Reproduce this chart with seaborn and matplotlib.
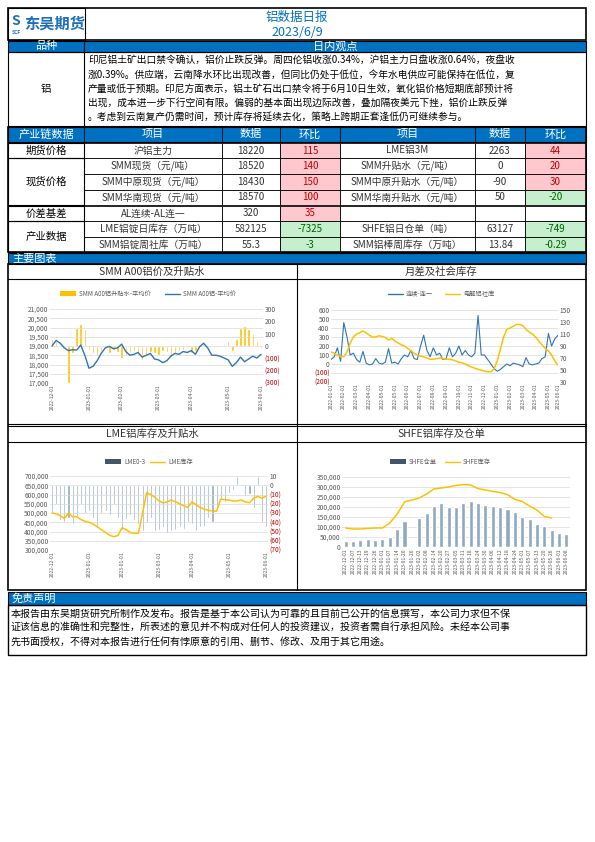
import matplotlib
matplotlib.use("Agg")
import matplotlib.pyplot as plt
import matplotlib.patches as mp
import matplotlib.ticker as mt
import numpy as np
import pandas as pd
import seaborn as sns

sns.set_theme(style="white")
plt.rcParams['font.family'] = ['Noto Sans CJK SC', 'DejaVu Sans']
plt.rcParams['axes.unicode_minus'] = False

# ---------------- data ----------------
title = "铝数据日报"
date_str = "2023/6/9"
view_lines = [
    "印尼铝土矿出口禁令确认，铝价止跌反弹。周四伦铝收涨0.34%，沪铝主力日盘收涨0.64%，夜盘收",
    "涨0.39%。供应端，云南降水环比出现改善，但同比仍处于低位，今年水电供应可能保持在低位，复",
    "产量或低于预期。印尼方面表示，铝土矿石出口禁令将于6月10日生效，氧化铝价格短期底部预计将",
    "出现，成本进一步下行空间有限。偏弱的基本面出现边际改善，叠加隔夜美元下挫，铝价止跌反弹",
    "。考虑到云南复产仍需时间，预计库存将延续去化，策略上跨期正套逢低仍可继续参与。",
]
left_items = ["沪铝主力", "SMM现货（元/吨）", "SMM中原现货（元/吨）", "SMM华南现货（元/吨）",
              "AL连续-AL连一", "LME铝锭日库存（万吨）", "SMM铝锭周社库（万吨）"]
left_vals = ["18220", "18520", "18430", "18570", "320", "582125", "55.3"]
left_chg = [115, 140, 150, 100, 35, -7325, -3]
right_items = ["LME铝3M", "SMM升贴水（元/吨）", "SMM中原升贴水（元/吨）", "SMM华南升贴水（元/吨）",
               "", "SHFE铝日仓单（吨）", "SMM铝棒周库存（万吨）"]
right_vals = ["2263", "0", "-90", "50", "", "63127", "13.84"]
right_chg = ["44", "20", "30", "-20", "", "-749", "-0.29"]
disclaimer = [
    "本报告由东吴期货研究所制作及发布。报告是基于本公司认为可靠的且目前已公开的信息撰写，本公司力求但不保",
    "证该信息的准确性和完整性，所表述的意见并不构成对任何人的投资建议，投资者需自行承担风险。未经本公司事",
    "先书面授权，不得对本报告进行任何有悖原意的引用、删节、修改、及用于其它用途。",
]

# chart 1: SMM A00 price and premium (weekly-ish, 2022-12-01 .. 2023-06-08)
c1_price = [19000, 19300, 19150, 18900, 18750, 18800, 18780, 19050, 18500, 17800, 17900, 18200,
            18600, 18900, 18980, 18850, 18900, 19100, 18700, 18500, 18550, 18650, 18400, 18500,
            18600, 18300, 18250, 18100, 18200, 18450, 18600, 18550, 18700, 18650, 18750, 18550,
            18950, 19150, 18900, 18500, 18500, 18450, 18350, 18250, 17900, 18100, 18400, 18150,
            18300, 18450, 18350, 18550]
c1_prem = [60, 40, 20, -10, -300, -60, 150, 180, 140, -30, -60, -80,
           -40, -20, -60, -30, -50, -100, -80, -60, -40, -70, -110, -80,
           -50, -60, -70, -40, -50, -90, -60, -40, -30, -20, -60, -40,
           -10, 20, 10, -10, 0, -10, 20, 40, -40, 60, 150, 160,
           140, 100, 40, -20]
# chart 2: month spread and social inventory (semi-monthly, 2022-01 .. 2023-06)
c2_spread = [50, 80, 180, 30, 460, 300, 100, 120, 50, 20, 140, 10, -10, 0, 60, 10,
             0, 20, 170, 10, 20, 0, 60, 100, 80, 150, 60, 50, 200, 320, 150, 80,
             180, 100, 120, 50, 60, 180, 80, 120, 200, 100, 150, 100, 80, 120, 540, 100,
             100, 50, 0, -50, -80, -60, -30, 0, -20, 10, 0, -10, -30, 70, 0, -10,
             0, 10, 60, 80, 340, 200, 280, 320]
c2_stock = [80, 78, 75, 72, 72, 80, 95, 105, 110, 112, 115, 112, 108, 105, 105, 107,
            106, 104, 100, 103, 98, 95, 92, 90, 86, 82, 78, 75, 73, 72, 70, 68,
            68, 69, 70, 69, 68, 68, 67, 65, 63, 62, 60, 57, 55, 53, 51, 50,
            48, 47, 47, 52, 65, 85, 105, 118, 120, 123, 126, 126, 124, 118, 113, 110,
            105, 98, 92, 86, 82, 75, 65, 58]
# chart 3: LME stock and 0-3 spread (2022-12 .. 2023-06)
c3_stock = [500000, 495000, 485000, 470000, 500000, 480000, 480000, 465000, 455000, 450000,
            440000, 425000, 410000, 395000, 380000, 372000, 378000, 420000, 410000, 395000,
            390000, 390000, 500000, 610000, 600000, 585000, 565000, 555000, 560000, 570000,
            560000, 550000, 540000, 530000, 560000, 545000, 530000, 520000, 515000, 510000,
            510000, 575000, 572000, 570000, 565000, 565000, 570000, 560000, 555000, 580000,
            590000, 580000, 590000]
c3_spread = [-30, -20, -38, -40, -35, -42, -33, -20, -30, -28, -35, -45, -30, -28, -32, -20,
             -35, -48, -36, -32, -38, -42, -50, -40, -35, -50, -48, -45, -52, -50, -48, -45,
             -47, -40, -42, -50, -45, -44, -35, -40, -22, -15, -18, -8, -5, 10, 0, -12,
             -10, -25, 10, -40, -45]
# chart 4: SHFE warrants and inventory (weekly, 2022-12-01 .. 2023-06-08)
c4_warrant = [30000, 32000, 35000, 42000, 36000, 40000, 50000, 90000, 130000, 0,
              145000, 168000, 205000, 220000, 200000, 202000, 220000, 232000, 218000, 210000,
              205000, 200000, 188000, 175000, 150000, 138000, 115000, 105000, 85000, 72000,
              64000]
c4_stock = [95000, 90000, 90000, 93000, 95000, 95000, 120000, 165000, 225000, 235000,
            245000, 265000, 290000, 295000, 300000, 308000, 312000, 310000, 292000, 285000,
            278000, 272000, 262000, 238000, 228000, 205000, 185000, 153000, 145000, None,
            None]

# ---------------- layout ----------------
W, H = 595, 842
fig = plt.figure(figsize=(W / 100, H / 100), dpi=100)
bg = fig.add_axes([0, 0, 1, 1])
bg.set_xlim(0, W); bg.set_ylim(H, 0); bg.axis('off')
BLUE = "#0070C0"


def rect(x0, y0, x1, y1, fc="none", ec="black", lw=0.8, z=1):
    bg.add_patch(mp.Rectangle((x0, y0), x1 - x0, y1 - y0, fc=fc, ec=ec, lw=lw, zorder=z))


def txt(x, y, s, size=7, color="black", ha="center", weight="normal"):
    bg.text(x, y, s, fontsize=size, color=color, ha=ha, va="center", weight=weight, zorder=5)


L, R = 8, 586
# header
rect(L, 8, R, 40, lw=1.2)
rect(L, 8, 85, 40, lw=0.8)
txt(16, 21, "S", size=10, color="#1F6FB8", weight="bold")
txt(16, 33, "SCF", size=3.5, color="#1F6FB8", weight="bold")
txt(55, 24, "东吴期货", size=11, color="#1F6FB8", weight="bold")
txt(297, 17, title, size=9, color=BLUE)
txt(297, 32, date_str, size=9, color=BLUE)
# view section
rect(L, 41, R, 52, fc=BLUE, ec="black")
bg.plot([84, 84], [41, 126], color="black", lw=0.8)
txt(46, 46.5, "品种", size=8, color="white")
txt(335, 46.5, "日内观点", size=8, color="white")
rect(L, 52, R, 126)
txt(46, 89, "铝", size=7.5)
for i, s in enumerate(view_lines):
    txt(88, 60 + i * 14.2, s, size=7, ha="left")

# table
cols = [L, 84, 222, 280, 340, 475, 525, R]
rect(L, 127, R, 142, fc=BLUE)
heads = ["产业链数据", "项目", "数据", "环比", "项目", "数据", "环比"]
for i, h in enumerate(heads):
    bg.plot([cols[i], cols[i]], [127, 142], color="black", lw=0.6)
    txt((cols[i] + cols[i + 1]) / 2, 134.5, h, size=8, color="white")
rows = [(143, 158), (158, 174), (174, 190), (190, 205), (206, 221), (221, 237), (237, 252)]
groups = [("期货价格", 0, 0), ("现货价格", 1, 3), ("价差基差", 4, 4), ("产业数据", 5, 6)]
PINK, PTXT, GRN, GTXT = "#FFC7CE", "#C00000", "#C6EFCE", "#006100"
for r, (y0, y1) in enumerate(rows):
    ym = (y0 + y1) / 2
    vals = [left_items[r], left_vals[r], left_chg[r], right_items[r], right_vals[r], right_chg[r]]
    for c in range(6):
        x0, x1 = cols[c + 1], cols[c + 2]
        v = vals[c]
        fc, tc = "white", "#333333"
        if c in (2, 5) and v != "":
            num = float(v)
            fc, tc = (PINK, PTXT) if num > 0 else (GRN, GTXT)
        rect(x0, y0, x1, y1, fc=fc, lw=0.6)
        txt((x0 + x1) / 2, ym, str(v), size=7, color=tc)
for name, a, b in groups:
    rect(L, rows[a][0], 84, rows[b][1], lw=0.8)
    txt(46, (rows[a][0] + rows[b][1]) / 2, name, size=7.5)
rect(L, 127, R, 252, lw=1.2)

# charts section
rect(L, 253, R, 264, fc=BLUE)
txt(12, 258.5, "主要图表", size=8, color="white", ha="left")
rect(L, 264, R, 590, lw=1.2)
bg.plot([297, 297], [264, 590], color="black", lw=0.8)
for y in (279, 424, 426, 442):
    bg.plot([L, R], [y, y], color="black", lw=0.8)
txt(152, 271.5, "SMM A00铝价及升贴水", size=7.5, color="#333333")
txt(441, 271.5, "月差及社会库存", size=7.5, color="#333333")
txt(152, 434, "LME铝库存及升贴水", size=7.5, color="#333333")
txt(441, 434, "SHFE铝库存及仓单", size=7.5, color="#333333")

# disclaimer
rect(L, 592, R, 605, fc=BLUE)
txt(12, 598.5, "免责声明", size=8, color="white", ha="left")
rect(L, 605, R, 655, lw=1.0)
for i, s in enumerate(disclaimer):
    txt(11, 614 + i * 14, s, size=7.2, ha="left")

YEL, LBL = "#FFC000", "#2E75B6"
TK = dict(labelsize=4.8, colors="#595959", length=0, pad=1)


def make_ax(x0, y0, x1, y1):
    ax = fig.add_axes([x0 / W, 1 - y1 / H, (x1 - x0) / W, (y1 - y0) / H])
    ax.set_facecolor("none")
    for s in ax.spines.values():
        s.set_visible(False)
    ax.grid(axis="y", color="#D9D9D9", lw=0.5)
    return ax


def neg_fmt(v, p):
    return f"({abs(v):,.0f})" if v < 0 else f"{v:,.0f}"


def color_neg(ax2):
    for lab in ax2.get_yticklabels():
        if "(" in lab.get_text():
            lab.set_color("#C00000")


def date_ticks(ax, dates, labels_idx, fmt="%Y-%m-%d"):
    ax.set_xticks(labels_idx)
    ax.set_xticklabels([dates[i].strftime(fmt) for i in labels_idx], rotation=90, fontsize=3.6, color="#595959")


# chart 1
d1 = pd.date_range("2022-12-01", "2023-06-08", periods=len(c1_price))
df1 = pd.DataFrame({"i": np.arange(len(d1)), "price": c1_price, "prem": c1_prem})
ax = make_ax(50, 309, 263, 383)
ax2 = ax.twinx()
ax2.bar(df1["i"], df1["prem"], color=YEL, width=0.6, zorder=1)
sns.lineplot(data=df1, x="i", y="price", ax=ax, color=LBL, lw=1.0, zorder=3)
ax.set_zorder(ax2.get_zorder() + 1); ax.patch.set_visible(False)
ax.set_ylim(17000, 21000); ax.set_yticks(np.arange(17000, 21001, 500))
ax2.set_ylim(-300, 300); ax2.set_yticks(np.arange(-300, 301, 100))
ax.yaxis.set_major_formatter(mt.FuncFormatter(lambda v, p: f"{v:,.0f}"))
ax2.yaxis.set_major_formatter(mt.FuncFormatter(neg_fmt))
ax.set_xlim(-0.5, len(d1) - 0.5)
date_ticks(ax, d1, [0, 9, 17, 26, 34, 43, 51], "%Y-%m-01")
ax.tick_params(axis="y", **TK); ax2.tick_params(axis="y", **TK)
ax.tick_params(axis="x", length=0, pad=1)
ax.set_xlabel(""); ax.set_ylabel(""); ax2.set_ylabel("")
for s in ax2.spines.values(): s.set_visible(False)
fig.canvas.draw(); color_neg(ax2)
bg.add_patch(mp.Rectangle((60, 291), 16, 5, fc=YEL, ec="none"))
txt(79, 293.5, "SMM A00铝升贴水-平均价", size=4.5, color="#595959", ha="left")
bg.plot([165, 180], [293.5, 293.5], color=LBL, lw=1)
txt(183, 293.5, "SMM A00铝-平均价", size=4.5, color="#595959", ha="left")

# chart 2
d2 = pd.date_range("2022-01-05", "2023-06-08", periods=len(c2_spread))
df2 = pd.DataFrame({"i": np.arange(len(d2)), "spread": c2_spread, "stock": c2_stock})
ax = make_ax(331, 310, 558, 382)
ax2 = ax.twinx()
sns.lineplot(data=df2, x="i", y="spread", ax=ax, color=LBL, lw=0.8)
sns.lineplot(data=df2, x="i", y="stock", ax=ax2, color=YEL, lw=1.1)
ax.set_ylim(-200, 600); ax.set_yticks(np.arange(-200, 601, 100))
ax2.set_ylim(30, 150); ax2.set_yticks(np.arange(30, 151, 20))
ax.yaxis.set_major_formatter(mt.FuncFormatter(neg_fmt))
ax.set_xlim(0, len(d2) - 1)
date_ticks(ax, d2, list(range(0, 72, 4)) + [71], "%Y-%m-01")
ax.tick_params(axis="y", **TK); ax2.tick_params(axis="y", **TK)
ax.tick_params(axis="x", length=0, pad=1)
ax.set_xlabel(""); ax.set_ylabel(""); ax2.set_ylabel("")
for s in ax2.spines.values(): s.set_visible(False)
fig.canvas.draw(); color_neg(ax)
bg.plot([388, 403], [294, 294], color=LBL, lw=1)
txt(406, 294, "连续-连一", size=4.5, color="#595959", ha="left")
bg.plot([445, 460], [294, 294], color=YEL, lw=1)
txt(463, 294, "电解铝社库", size=4.5, color="#595959", ha="left")

# chart 3
d3 = pd.date_range("2022-12-01", "2023-06-08", periods=len(c3_stock))
df3 = pd.DataFrame({"i": np.arange(len(d3)), "stock": c3_stock, "spread": c3_spread})
ax = make_ax(50, 476, 268, 550)
ax2 = ax.twinx()
ax2.bar(df3["i"], df3["spread"], color="#8EA9C1", width=0.5, zorder=1)
sns.lineplot(data=df3, x="i", y="stock", ax=ax, color=YEL, lw=1.1, zorder=3)
ax.set_zorder(ax2.get_zorder() + 1); ax.patch.set_visible(False)
ax.set_ylim(300000, 700000); ax.set_yticks(np.arange(300000, 700001, 50000))
ax2.set_ylim(-70, 10); ax2.set_yticks(np.arange(-70, 11, 10))
ax.yaxis.set_major_formatter(mt.FuncFormatter(lambda v, p: f"{v:,.0f}"))
ax2.yaxis.set_major_formatter(mt.FuncFormatter(neg_fmt))
ax.set_xlim(-0.5, len(d3) - 0.5)
date_ticks(ax, d3, [0, 9, 17, 26, 34, 43, 52], "%Y-%m-01")
ax.tick_params(axis="y", **TK); ax2.tick_params(axis="y", **TK)
ax.tick_params(axis="x", length=0, pad=1)
ax.set_xlabel(""); ax.set_ylabel(""); ax2.set_ylabel("")
for s in ax2.spines.values(): s.set_visible(False)
fig.canvas.draw(); color_neg(ax2)
bg.add_patch(mp.Rectangle((105, 459), 16, 5, fc="#44546A", ec="none"))
txt(124, 461.5, "LME0-3", size=4.5, color="#595959", ha="left")
bg.plot([150, 165], [461.5, 461.5], color=YEL, lw=1)
txt(168, 461.5, "LME库存", size=4.5, color="#595959", ha="left")

# chart 4
d4 = pd.date_range("2022-12-01", "2023-06-08", periods=len(c4_warrant))
df4 = pd.DataFrame({"i": np.arange(len(d4)), "warrant": c4_warrant,
                    "stock": pd.array(c4_stock, dtype="Float64")})
ax = make_ax(342, 477, 570, 547)
ax.bar(df4["i"], df4["warrant"], color="#8EA9C1", width=0.55, zorder=2)
sns.lineplot(data=df4.dropna(), x="i", y="stock", ax=ax, color=YEL, lw=1.1, zorder=3)
ax.set_ylim(0, 350000); ax.set_yticks(np.arange(0, 350001, 50000))
ax.yaxis.set_major_formatter(mt.FuncFormatter(lambda v, p: f"{v:,.0f}"))
ax.set_xlim(-0.5, len(d4) - 0.5)
date_ticks(ax, d4, list(range(len(d4))))
ax.tick_params(axis="y", **TK)
ax.tick_params(axis="x", length=0, pad=1)
ax.set_xlabel(""); ax.set_ylabel("")
bg.add_patch(mp.Rectangle((390, 459), 16, 5, fc="#44546A", ec="none"))
txt(409, 461.5, "SHFE仓单", size=4.5, color="#595959", ha="left")
bg.plot([445, 460], [461.5, 461.5], color=YEL, lw=1)
txt(463, 461.5, "SHFE库存", size=4.5, color="#595959", ha="left")

fig.savefig("out.png", dpi=100)
